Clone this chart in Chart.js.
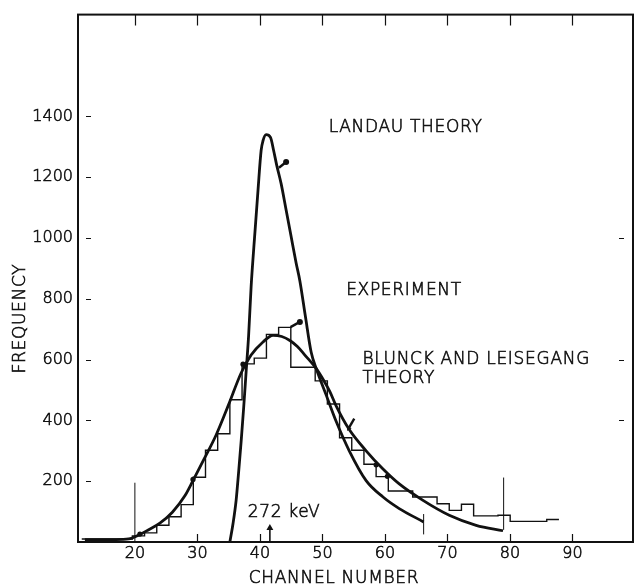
<!DOCTYPE html>
<html>
<head>
<meta charset="utf-8">
<script src="https://cdn.jsdelivr.net/npm/chart.js@4.4.1/dist/chart.umd.min.js"></script>
<style>
   html, body { margin: 0; padding: 0; background: #fff; }
   #box { width: 640px; height: 587px; }
</style>
</head>
<body>
<div id="box"><canvas id="chart"></canvas></div>
<script>
// energy-loss spectrum: measured histogram against Landau and Blunck-Leisegang curves
const xTicks = [20, 30, 40, 50, 60, 70, 80, 90];
const yTicks = [200, 400, 600, 800, 1000, 1200, 1400];
const rightTicks = [400, 600, 1000];

// histogram: left bin edges (channel) and counts, last edge closes the final bin
const histEdges = [11.5, 19.6, 21.55, 23.5, 25.45, 27.4, 29.35, 31.3, 33.25, 35.2, 37.15, 39.1, 41.05, 43.0, 44.95,
   46.9, 48.85, 50.8, 52.75, 54.7, 56.65, 58.6, 60.55, 62.5, 64.45, 66.4, 68.35, 70.3, 72.25, 74.2, 76.15,
   78.1, 80.05, 82.0, 83.95, 85.9, 87.85];
const histCounts = [10, 20, 30, 55, 83, 123, 213, 302, 356, 468, 586, 605, 683, 706, 575, 575, 530, 454, 343, 302,
   256, 215, 168, 168, 148, 148, 126, 104, 124, 86, 86, 88, 68, 68, 68, 74];

// Landau theory
const landauX = [35.2, 35.7, 36.2, 36.6, 37.0, 37.4, 37.8, 38.2, 38.6, 39.2, 39.7, 40.2, 40.5, 41.0, 41.7, 42.2,
   42.7, 43.4, 44.2, 45.0, 45.8, 46.4, 47.3, 48.2, 49.1, 50.6, 52.2, 54.3, 57.0, 59.7, 62.3, 66.2];
const landauY = [0, 60, 137, 230, 330, 440, 560, 680, 840, 1016, 1157, 1288, 1320, 1340, 1331, 1288,
   1239, 1179, 1092, 1005, 918, 859, 740, 625, 566, 484, 397, 300, 202, 148, 110, 66];

// Blunck and Leisegang theory
const blunckX = [12, 17, 19, 20.8, 22, 24, 26, 28, 29.3, 31, 33, 35, 37, 38.6, 40.5, 42.1, 43.5, 44.8, 46.0,
   47.2, 49.0, 50.2, 51.2, 52.2, 54.3, 57.0, 59.7, 62.3, 66.1, 70.3, 74.6, 78.9];
const blunckY = [8, 8, 10, 25, 38, 62, 98, 152, 202, 270, 352, 452, 556, 615, 658, 680, 676, 663, 643,
   615, 571, 532, 495, 448, 370, 300, 240, 191, 137, 88, 55, 37];

// marked points on the histogram
const dotX = [20.8, 29.3, 37.3, 58.6, 60.4];
const dotY = [26, 206, 585, 254, 216];

// thin vertical cut lines
const cutX = [20, 66.2, 79];
const cutLow = [0, 25, 40];
const cutHigh = [195, 92, 212];

// 272 keV marker
const kevX = 41.6;
const kevTop = 46;

// leader lines from labels to curves: [from, to]
const landauLead = [[43.05, 1231], [44.2, 1250]];
const expLead = [[44.9, 707], [46.4, 724]];
const blunckLead = [[55.1, 406], [54.2, 374]];

const notes = [
   { text: 'LANDAU THEORY', x: 51.0, y: 1363 },
   { text: 'EXPERIMENT', x: 53.8, y: 826 },
   { text: 'BLUNCK AND LEISEGANG', x: 56.4, y: 599 },
   { text: 'THEORY', x: 56.4, y: 539 },
   { text: '272 keV', x: 38.05, y: 98 }
];

const ink = '#111';
const family = '"DejaVu Sans", sans-serif';

function pts(xs, ys) {
   return xs.map((x, i) => ({ x: x, y: ys[i] }));
}

function histPoints() {
   const p = histCounts.map((c, i) => ({ x: histEdges[i], y: c }));
   p.push({ x: histEdges[histEdges.length - 1], y: histCounts[histCounts.length - 1] });
   return p;
}

function leadSet(seg, style, rot) {
   return {
      data: seg.map(s => ({ x: s[0], y: s[1] })),
      borderColor: ink,
      borderWidth: 2.4,
      pointRadius: [0, 3],
      pointStyle: style,
      pointRotation: [0, rot],
      pointBackgroundColor: ink,
      pointBorderColor: ink,
      pointBorderWidth: 0
   };
}

const datasets = [
   {
      data: histPoints(),
      stepped: 'before',
      borderColor: ink,
      borderWidth: 1.4,
      pointRadius: 0
   },
   {
      data: pts(landauX, landauY),
      cubicInterpolationMode: 'monotone',
      borderColor: ink,
      borderWidth: 2.8,
      pointRadius: 0
   },
   {
      data: pts(blunckX, blunckY),
      cubicInterpolationMode: 'monotone',
      borderColor: ink,
      borderWidth: 2.8,
      pointRadius: 0
   },
   {
      data: pts(dotX, dotY),
      showLine: false,
      pointRadius: 2.6,
      pointBackgroundColor: ink,
      pointBorderWidth: 0
   },
   {
      data: [{ x: kevX, y: 0 }, { x: kevX, y: kevTop }],
      borderColor: ink,
      borderWidth: 1.6,
      pointRadius: [0, 4],
      pointStyle: 'triangle',
      pointBackgroundColor: ink,
      pointBorderWidth: 0
   },
   leadSet(landauLead, 'circle', 0),
   leadSet(expLead, 'circle', 0),
   leadSet(blunckLead, 'triangle', 210)
];

cutX.forEach((cx, i) => {
   datasets.push({
      data: [{ x: cx, y: cutLow[i] }, { x: cx, y: cutHigh[i] }],
      borderColor: ink,
      borderWidth: 1,
      pointRadius: 0
   });
});

// lettering: thin face with a light outline to darken it
function letter(ctx, text, x, y) {
   ctx.fillText(text, x, y);
   ctx.strokeText(text, x, y);
}

// box, inner tick marks and lettering
const framePlugin = {
   id: 'frame',
   afterDatasetsDraw(chart) {
      const { ctx, chartArea: a, scales: { x, y } } = chart;
      ctx.save();
      ctx.strokeStyle = ink;
      ctx.lineWidth = 2;
      ctx.strokeRect(a.left, a.top, a.right - a.left, a.bottom - a.top);

      ctx.lineWidth = 1.2;
      ctx.beginPath();
      xTicks.forEach(v => {
         const px = Math.round(x.getPixelForValue(v)) + 0.5;
         ctx.moveTo(px, a.top);
         ctx.lineTo(px, a.top + 11);
         if (v !== 20) {
            ctx.moveTo(px, a.bottom);
            ctx.lineTo(px, a.bottom - 8);
         }
      });
      yTicks.forEach(v => {
         const py = Math.round(y.getPixelForValue(v)) + 0.5;
         ctx.moveTo(a.left + 8, py);
         ctx.lineTo(a.left + 13, py);
      });
      rightTicks.forEach(v => {
         const py = Math.round(y.getPixelForValue(v)) + 0.5;
         ctx.moveTo(a.right - 14, py);
         ctx.lineTo(a.right - 9, py);
      });
      ctx.stroke();

      ctx.fillStyle = ink;
      ctx.lineWidth = 0.6;
      ctx.font = '300 17px ' + family;
      ctx.letterSpacing = '0.7px';
      ctx.textBaseline = 'middle';
      ctx.textAlign = 'left';
      notes.forEach(n => letter(ctx, n.text, x.getPixelForValue(n.x), y.getPixelForValue(n.y)));

      ctx.textAlign = 'center';
      letter(ctx, 'CHANNEL NUMBER', a.left + 256, a.bottom + 37);
      ctx.translate(21, a.top + 304);
      ctx.rotate(-Math.PI / 2);
      letter(ctx, 'FREQUENCY', 0, 0);
      ctx.restore();
   }
};

const tickStyle = {
   color: ink,
   autoSkip: false,
   callback: v => String(v),
   textStrokeColor: ink,
   textStrokeWidth: 0.6,
   font: { family: family, size: 16, weight: 300 }
};

const config = {
   type: 'line',
   data: { datasets: datasets },
   options: {
      responsive: true,
      maintainAspectRatio: false,
      animation: false,
      layout: { padding: { top: 9, right: 7, left: 0, bottom: 0 } },
      plugins: {
         legend: { display: false },
         tooltip: { enabled: false }
      },
      scales: {
         x: {
            type: 'linear',
            min: 10.9,
            max: 99.7,
            afterBuildTicks: s => { s.ticks = xTicks.map(v => ({ value: v })); },
            afterFit: s => { s.height = 45; },
            grid: { display: false, drawTicks: false },
            border: { display: false },
            ticks: Object.assign({ padding: 2, maxRotation: 0 }, tickStyle)
         },
         y: {
            type: 'linear',
            min: 0,
            max: 1735,
            afterBuildTicks: s => { s.ticks = yTicks.map(v => ({ value: v })); },
            afterFit: s => { s.width = 78; },
            grid: { display: false, drawTicks: false },
            border: { display: false },
            ticks: Object.assign({ padding: 5 }, tickStyle)
         }
      }
   },
   plugins: [framePlugin]
};

new Chart(document.getElementById('chart'), config);
</script>
</body>
</html>
